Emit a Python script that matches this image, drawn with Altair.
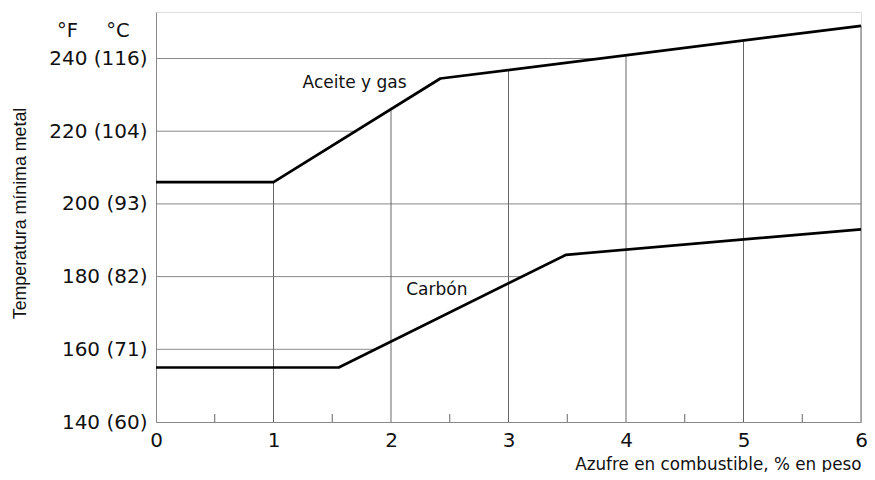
import altair as alt
import numpy as np
import pandas as pd

# --- data ---
aceite_x = [0.0, 1.0, 2.42, 6.0]
aceite_y = [206.0, 206.0, 234.5, 249.0]
carbon_x = [0.0, 1.555, 3.49, 6.0]
carbon_y = [155.0, 155.0, 186.0, 193.0]

y_ticks_f = [140, 160, 180, 200, 220, 240]
y_ticks_c = [60, 71, 82, 93, 104, 116]
x_ticks = [0, 1, 2, 3, 4, 5, 6]
x_minor = [0.5, 1.5, 2.5, 3.5, 4.5, 5.5]
grid_h = [160, 180, 200, 220, 240]
grid_v = [1, 2, 3, 4, 5, 6]

curve_labels = ["Aceite y gas", "Carbón"]
curve_label_x = [1.69, 2.39]
curve_label_y = [233.2, 176.4]

X_MAX = 6.0
Y_DOM = [140, 252.8]
W, H = 705, 410

FONT = "DejaVu Sans"

# --- derived tables ---
curves = pd.DataFrame({
    "x": aceite_x + carbon_x,
    "y": aceite_y + carbon_y,
    "serie": ["Aceite y gas"] * len(aceite_x) + ["Carbón"] * len(carbon_x),
    "ord": list(range(len(aceite_x))) + list(range(len(carbon_x))),
})


def crossing(level, xs, ys):
    for i in range(len(xs) - 1):
        y0, y1 = ys[i], ys[i + 1]
        if (y0 - level) * (y1 - level) <= 0 and y0 != y1:
            return xs[i] + (level - y0) / (y1 - y0) * (xs[i + 1] - xs[i])
    return None


h_rows = []
for g in grid_h:
    cands = [c for c in (crossing(g, aceite_x, aceite_y), crossing(g, carbon_x, carbon_y)) if c is not None]
    h_rows.append({"y": g, "x": 0.0, "x2": min(cands) if cands else X_MAX})
hgrid = pd.DataFrame(h_rows)

vgrid = pd.DataFrame({
    "x": grid_v,
    "y": [Y_DOM[0]] * len(grid_v),
    "y2": [float(np.interp(v, aceite_x, aceite_y)) for v in grid_v],
})

minor = pd.DataFrame({"x": x_minor})
labels = pd.DataFrame({"t": curve_labels, "x": curve_label_x, "y": curve_label_y})

label_expr = " : ".join(
    f"datum.value == {f} ? '{f} ({c})'" for f, c in zip(y_ticks_f, y_ticks_c)
) + " : ''"

xs = alt.Scale(domain=[0, X_MAX], nice=False, zero=False)
ys = alt.Scale(domain=Y_DOM, nice=False, zero=False)

base_x_axis = alt.Axis(
    values=x_ticks, format="d", ticks=False, grid=False, domainColor="#888", domainWidth=1,
    labelFont=FONT, labelFontSize=20, labelColor="#111", labelPadding=8,
    title="Azufre en combustible, % en peso", titleFont=FONT, titleFontSize=16.8,
    titleFontWeight="normal", titleColor="#111", titleAnchor="end",
    titleBaseline="top", titleY=34, titleAlign="right", titleX=W,
    labelFlush=False,
)
base_y_axis = alt.Axis(
    values=y_ticks_f, ticks=False, grid=False, domainColor="#888", domainWidth=1,
    labelFont=FONT, labelFontSize=20, labelColor="#111", labelPadding=9,
    labelExpr=label_expr,
    title="Temperatura mínima metal", titleFont="Liberation Sans", titleFontSize=17.8,
    titleFontWeight="normal", titleColor="#111", titleAngle=270,
    titleX=-136, titleY=201, titleAlign="center", titleBaseline="middle",
)

hg = alt.Chart(hgrid).mark_rule(color="#8a8a8a", strokeWidth=1).encode(
    x=alt.X("x:Q", scale=xs, axis=base_x_axis),
    x2="x2:Q",
    y=alt.Y("y:Q", scale=ys, axis=base_y_axis),
)

vg = alt.Chart(vgrid).mark_rule(color="#666", strokeWidth=1).encode(
    x=alt.X("x:Q", scale=xs),
    y=alt.Y("y:Q", scale=ys),
    y2="y2:Q",
)

mt = alt.Chart(minor).mark_rule(color="#666", strokeWidth=1).encode(
    x=alt.X("x:Q", scale=xs),
    y=alt.value(H),
    y2=alt.value(H - 8),
)

lines = alt.Chart(curves).mark_line(color="black", strokeWidth=2.7, strokeJoin="round").encode(
    x=alt.X("x:Q", scale=xs),
    y=alt.Y("y:Q", scale=ys),
    detail="serie:N",
    order="ord:Q",
)

txt = alt.Chart(labels).mark_text(font=FONT, fontSize=17, color="#111", align="center", baseline="middle").encode(
    x=alt.X("x:Q", scale=xs),
    y=alt.Y("y:Q", scale=ys),
    text="t:N",
)

units = pd.DataFrame({"t": ["°F", "°C"], "px": [-88.5, -38.0]})
unit_txt = alt.Chart(units).mark_text(font=FONT, fontSize=19.5, color="#111", align="center", baseline="alphabetic").encode(
    x=alt.X("px:Q", scale=None),
    y=alt.value(25),
    text="t:N",
)

chart = alt.layer(hg, vg, mt, lines, txt, unit_txt).properties(
    width=W, height=H,
    autosize=alt.AutoSizeParams(type="none"),
    padding={"left": 148, "top": 4, "right": 6, "bottom": 50},
).configure_view(stroke=None).configure(background="white")

chart.save("out.html", embed_options={"renderer": "svg", "actions": False})
